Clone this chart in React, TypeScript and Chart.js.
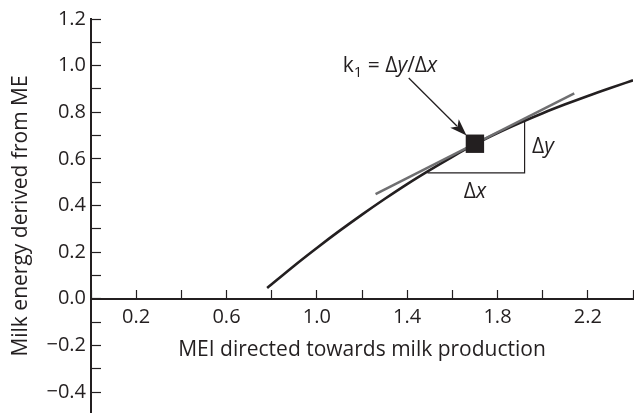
import React, { useEffect, useRef } from 'react';
import { Chart, registerables } from 'chart.js';

Chart.register(...registerables);

// ---- data ----
const curveX = [0.78, 0.9, 1.0, 1.1, 1.2, 1.3, 1.4, 1.5, 1.6, 1.7, 1.8, 1.9, 2.0, 2.1, 2.2, 2.3, 2.4];
const curveY = [0.046, 0.142, 0.218, 0.291, 0.361, 0.428, 0.492, 0.552, 0.609, 0.663, 0.711, 0.755, 0.796, 0.834, 0.87, 0.904, 0.937];

const tangentX = [1.26, 2.14];
const tangentY = [0.449, 0.881];

const pointX = [1.7];
const pointY = [0.665];

const triangleX = [1.49, 1.92, 1.92];
const triangleY = [0.54, 0.54, 0.76];

const xTickLabels = ['0.2', '0.6', '1.0', '1.4', '1.8', '2.2'];
const yTickLabels = ['1.2', '1.0', '0.8', '0.6', '0.4', '0.2', '0.0', '\u22120.2', '\u22120.4'];

const xTitle = 'MEI directed towards milk production';
const yTitle = 'Milk energy derived from ME';

// annotation anchors (data units)
const arrowFrom = [1.407, 0.947];
const arrowTo = [1.663, 0.7];
const formulaAt = [1.115, 0.971];
const dyLabelAt = [1.953, 0.652];
const dxLabelAt = [1.7, 0.459];

const INK = '#231f20';
const GREY = '#6f6f71';
const FONT = "'Open Sans', sans-serif";

const toXY = (xs: number[], ys: number[]) => xs.map((x, i) => ({ x, y: ys[i] }));

const fmtY = (v: number) => (v < -1e-9 ? '\u2212' + Math.abs(v).toFixed(1) : Math.abs(v).toFixed(1));

const annotationPlugin = {
  id: 'annotations',
  afterDatasetsDraw(chart: any) {
    const { ctx, scales } = chart;
    const sx = (v: number) => scales.x.getPixelForValue(v);
    const sy = (v: number) => scales.y.getPixelForValue(v);
    ctx.save();
    ctx.fillStyle = INK;
    ctx.strokeStyle = INK;

    // arrow
    const x1 = sx(arrowFrom[0]), y1 = sy(arrowFrom[1]);
    const x2 = sx(arrowTo[0]), y2 = sy(arrowTo[1]);
    const ang = Math.atan2(y2 - y1, x2 - x1);
    const headL = 17, headW = 6;
    const c = Math.cos(ang), s = Math.sin(ang);
    ctx.lineWidth = 1.3;
    ctx.beginPath();
    ctx.moveTo(x1, y1);
    ctx.lineTo(x2 - c * headL * 0.8, y2 - s * headL * 0.8);
    ctx.stroke();
    ctx.beginPath();
    ctx.moveTo(x2, y2);
    ctx.lineTo(x2 - c * headL + s * headW, y2 - s * headL - c * headW);
    ctx.lineTo(x2 - c * headL * 0.75, y2 - s * headL * 0.75);
    ctx.lineTo(x2 - c * headL - s * headW, y2 - s * headL + c * headW);
    ctx.closePath();
    ctx.fill();

    // formula text  k1 = Δy/Δx
    const reg = `21px ${FONT}`;
    const ita = `italic 21px ${FONT}`;
    const sub = `15px ${FONT}`;
    ctx.textAlign = 'left';
    ctx.textBaseline = 'alphabetic';
    let cx = sx(formulaAt[0]);
    const by = sy(formulaAt[1]);
    const parts: [string, string, number][] = [
      ['k', reg, 0],
      ['1', sub, 5],
      [' = \u0394', reg, 0],
      ['y', ita, 0],
      ['/\u0394', reg, 0],
      ['x', ita, 0],
    ];
    for (const [t, f, dy] of parts) {
      ctx.font = f;
      ctx.fillText(t, cx, by + dy);
      cx += ctx.measureText(t).width;
    }

    // Δy / Δx labels
    const drawDelta = (px: number, py: number, letter: string, align: 'left' | 'center') => {
      ctx.textBaseline = 'middle';
      ctx.textAlign = 'left';
      ctx.font = reg;
      const w1 = ctx.measureText('\u0394').width;
      ctx.font = ita;
      const w2 = ctx.measureText(letter).width;
      const start = align === 'left' ? px : px - (w1 + w2) / 2;
      ctx.font = reg;
      ctx.fillText('\u0394', start, py);
      ctx.font = ita;
      ctx.fillText(letter, start + w1, py);
    };
    drawDelta(sx(dyLabelAt[0]), sy(dyLabelAt[1]), 'y', 'left');
    drawDelta(sx(dxLabelAt[0]), sy(dxLabelAt[1]), 'x', 'center');

    ctx.restore();
  },
};

export default function App() {
  const ref = useRef<HTMLCanvasElement | null>(null);

  useEffect(() => {
    if (!ref.current) return;
    const chart = new Chart(ref.current, {
      type: 'line',
      data: {
        datasets: [
          {
            label: 'k1 point',
            data: toXY(pointX, pointY),
            showLine: false,
            pointStyle: 'rect',
            pointRadius: 13,
            pointBackgroundColor: INK,
            pointBorderColor: INK,
            pointBorderWidth: 0,
          },
          {
            label: 'tangent',
            data: toXY(tangentX, tangentY),
            borderColor: GREY,
            borderWidth: 2.5,
            pointRadius: 0,
          },
          {
            label: 'curve',
            data: toXY(curveX, curveY),
            borderColor: INK,
            borderWidth: 2.6,
            pointRadius: 0,
            cubicInterpolationMode: 'monotone',
          },
          {
            label: 'triangle',
            data: toXY(triangleX, triangleY),
            borderColor: INK,
            borderWidth: 1.2,
            pointRadius: 0,
          },
        ],
      },
      options: {
        animation: false,
        responsive: false,
        events: [],
        layout: { autoPadding: false, padding: { top: 19, right: 1, bottom: 0, left: 0 } },
        plugins: {
          legend: { display: false },
          tooltip: { enabled: false },
        },
        scales: {
          x: {
            type: 'linear',
            min: 0,
            max: 2.4,
            position: { y: 0 } as any,
            afterFit: (s: any) => {
              s.height = 64;
              s.paddingLeft = 0;
              s.paddingRight = 0;
            },
            grid: {
              display: true,
              drawOnChartArea: false,
              drawTicks: true,
              tickLength: -10,
              tickWidth: 1.2,
              tickColor: INK,
            },
            border: { display: true, width: 2, color: INK },
            ticks: {
              stepSize: 0.2,
              autoSkip: false,
              maxRotation: 0,
              padding: 17,
              color: INK,
              font: { family: FONT, size: 20 },
              callback: (v: any) => {
                const l = Number(v).toFixed(1);
                return xTickLabels.includes(l) ? l : '';
              },
            },
            title: {
              display: true,
              text: xTitle,
              color: INK,
              padding: 0,
              font: { family: FONT, size: 21 },
            },
          },
          y: {
            type: 'linear',
            min: -0.49,
            max: 1.2,
            position: 'left',
            afterFit: (s: any) => {
              s.width = 91;
              s.paddingTop = 0;
              s.paddingBottom = 0;
            },
            grid: {
              display: true,
              drawOnChartArea: false,
              drawTicks: true,
              tickLength: -10,
              tickWidth: 1.2,
              tickColor: INK,
            },
            border: { display: true, width: 2, color: INK },
            ticks: {
              stepSize: 0.1,
              includeBounds: false,
              autoSkip: false,
              padding: 15,
              color: INK,
              font: { family: FONT, size: 20 },
              callback: (v: any) => {
                const l = fmtY(Number(v));
                return yTickLabels.includes(l) ? l : '';
              },
            },
            title: {
              display: true,
              text: yTitle,
              color: INK,
              padding: { top: 8, bottom: 0 },
              font: { family: FONT, size: 21 },
            },
          },
        },
      },
      plugins: [annotationPlugin],
    });
    return () => chart.destroy();
  }, []);

  return (
    <div style={{ position: 'absolute', left: 0, top: 0, width: 634, height: 413, background: '#fff' }}>
      <canvas ref={ref} width={634} height={413} style={{ display: 'block' }} />
    </div>
  );
}
